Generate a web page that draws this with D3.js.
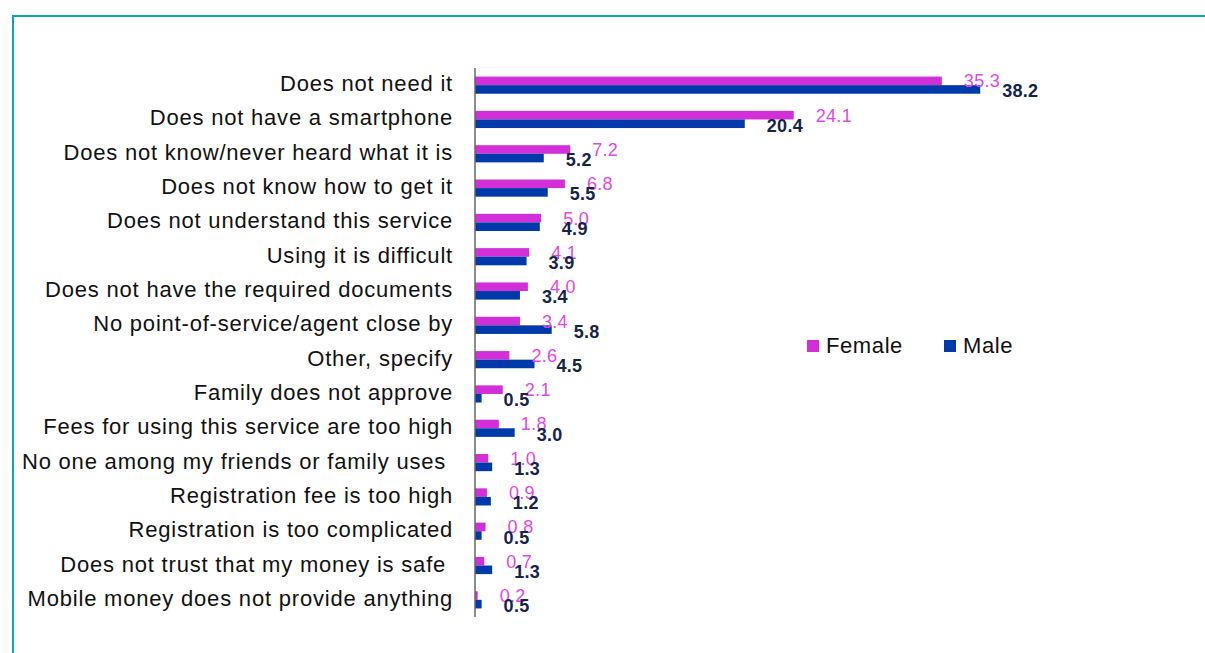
<!DOCTYPE html>
<html>
<head>
<meta charset="utf-8">
<script src="https://cdn.jsdelivr.net/npm/d3@7"></script>
<style>
  html, body { margin: 0; padding: 0; background: #fff; }
  svg { display: block; font-family: "Liberation Sans", Arial, sans-serif; }
</style>
</head>
<body>
<div id="chart"></div>
<script>
// data
const categories = [
  "Does not need it",
  "Does not have a smartphone",
  "Does not know/never heard what it is",
  "Does not know how to get it",
  "Does not understand this service",
  "Using it is difficult",
  "Does not have the required documents",
  "No point-of-service/agent close by",
  "Other, specify",
  "Family does not approve",
  "Fees for using this service are too high",
  "No one among my friends or family uses ",
  "Registration fee is too high",
  "Registration is too complicated",
  "Does not trust that my money is safe ",
  "Mobile money does not provide anything"
];
const series = ["Female", "Male"];
const female = [35.3, 24.1, 7.2, 6.8, 5.0, 4.1, 4.0, 3.4, 2.6, 2.1, 1.8, 1.0, 0.9, 0.8, 0.7, 0.2];
const male = [38.2, 20.4, 5.2, 5.5, 4.9, 3.9, 3.4, 5.8, 4.5, 0.5, 3.0, 1.3, 1.2, 0.5, 1.3, 0.5];

const width = 1205, height = 653;
const colors = { Female: "#d22fd9", Male: "#0039aa" };
const labelColors = { Female: "#e048e4", Male: "#15244a" };

const svg = d3.select("#chart").append("svg")
  .attr("width", width)
  .attr("height", height);

// frame
svg.append("path")
  .attr("d", `M13,${height + 5} L13,16 L${width + 5},16`)
  .attr("fill", "none")
  .attr("stroke", "#0aa6b5")
  .attr("stroke-width", 2);

const x = d3.scaleLinear().domain([0, 40]).range([475, 1004]);
const y = d3.scaleBand().domain(categories).range([68, 617]);
const ySub = d3.scaleBand().domain(series)
  .range([y.bandwidth() * 0.25, y.bandwidth() * 0.75]);

const rows = categories.map((c, i) => ({ cat: c, Female: female[i], Male: male[i] }));

const g = svg.append("g");

// category labels
g.selectAll(".cat")
  .data(categories)
  .enter().append("text")
  .attr("class", "cat")
  .attr("x", 453)
  .attr("y", d => y(d) + y.bandwidth() / 2 + 6)
  .attr("text-anchor", "end")
  .attr("font-size", 22)
  .attr("letter-spacing", 0.8)
  .attr("fill", "#111")
  .style("white-space", "pre")
  .text(d => d);

// bars
const groups = g.selectAll(".row")
  .data(rows)
  .enter().append("g")
  .attr("class", "row")
  .attr("transform", d => `translate(0,${y(d.cat)})`);

groups.selectAll("rect")
  .data(d => series.map(s => ({ s, v: d[s] })))
  .enter().append("rect")
  .attr("x", x(0))
  .attr("y", d => ySub(d.s))
  .attr("width", d => x(d.v) - x(0))
  .attr("height", ySub.bandwidth())
  .attr("fill", d => colors[d.s]);

// value labels
groups.selectAll(".val")
  .data(d => series.map(s => ({ s, v: d[s] })))
  .enter().append("text")
  .attr("class", "val")
  .attr("x", d => x(d.v) + 22)
  .attr("y", d => ySub(d.s) + ySub.bandwidth() / 2 + (d.s === "Male" ? 8 : 6.5))
  .attr("font-size", 18)
  .attr("letter-spacing", 0.3)
  .attr("font-weight", d => d.s === "Male" ? "bold" : "normal")
  .attr("fill", d => labelColors[d.s])
  .text(d => d.v.toFixed(1));

// axis line
svg.append("line")
  .attr("x1", x(0)).attr("x2", x(0))
  .attr("y1", 68).attr("y2", 617)
  .attr("stroke", "#666")
  .attr("stroke-width", 1.5);

// legend
const legend = svg.append("g").attr("transform", "translate(807,340)");
const items = legend.selectAll("g")
  .data(series)
  .enter().append("g")
  .attr("transform", (d, i) => `translate(${i * 137},0)`);
items.append("rect")
  .attr("width", 12).attr("height", 12)
  .attr("fill", d => colors[d]);
items.append("text")
  .attr("x", 19)
  .attr("y", 13)
  .attr("font-size", 22)
  .attr("letter-spacing", 0.6)
  .attr("fill", "#111")
  .text(d => d);
</script>
</body>
</html>
